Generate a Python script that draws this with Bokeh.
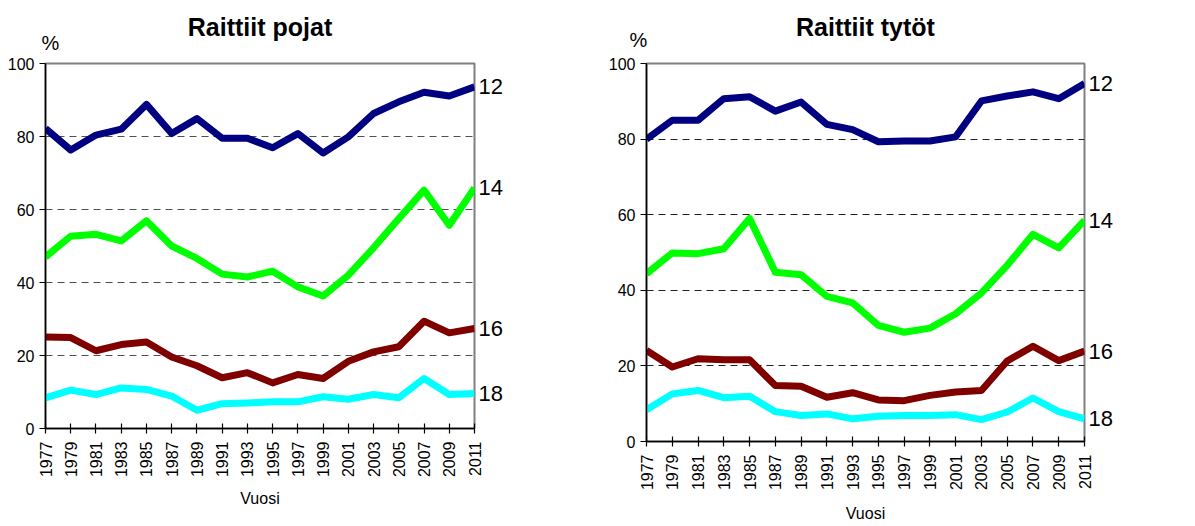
from math import pi
from bokeh.plotting import figure
from bokeh.layouts import row
from bokeh.models import FixedTicker, Range1d, Title, LinearAxis
from bokeh.embed import file_html
from bokeh.resources import INLINE

years = list(range(1977, 2012, 2))

boys_12 = [82.2, 76.3, 80.4, 82.0, 88.8, 80.8, 84.9, 79.5, 79.5, 76.9, 80.8, 75.5, 79.9, 86.3, 89.5, 92.1, 91.1, 93.6]
boys_14 = [47.0, 52.7, 53.2, 51.4, 56.9, 50.0, 46.6, 42.3, 41.5, 43.1, 38.8, 36.3, 42.0, 49.5, 57.5, 65.3, 55.7, 65.9]
boys_16 = [25.1, 24.9, 21.3, 23.0, 23.7, 19.6, 17.2, 13.9, 15.3, 12.5, 14.8, 13.7, 18.4, 21.0, 22.4, 29.4, 26.2, 27.4]
boys_18 = [8.4, 10.5, 9.3, 11.1, 10.7, 8.9, 5.0, 6.8, 7.0, 7.3, 7.3, 8.7, 8.0, 9.3, 8.4, 13.7, 9.3, 9.6]

girls_12 = [80.0, 85.0, 85.0, 90.7, 91.2, 87.4, 89.8, 83.9, 82.5, 79.3, 79.5, 79.5, 80.6, 90.1, 91.4, 92.5, 90.7, 94.7]
girls_14 = [44.4, 49.9, 49.7, 51.0, 59.0, 44.8, 44.1, 38.4, 36.7, 30.7, 28.9, 30.0, 33.8, 39.3, 46.6, 54.8, 51.2, 58.5]
girls_16 = [24.1, 19.7, 21.9, 21.6, 21.6, 14.8, 14.6, 11.7, 12.9, 11.0, 10.8, 12.2, 13.1, 13.5, 21.3, 25.2, 21.4, 23.9]
girls_18 = [8.4, 12.6, 13.5, 11.6, 12.0, 7.9, 6.9, 7.3, 6.0, 6.7, 6.9, 6.9, 7.1, 5.8, 7.8, 11.5, 7.9, 6.0]

age_labels = ["12", "14", "16", "18"]
colors = ["#000080", "#00FF00", "#800000", "#00FFFF"]
y_ticks = [0, 20, 40, 60, 80, 100]
grid_ticks = [20, 40, 60, 80]

FONT = "Liberation Sans"


def make(title, series, fw, fh, bl, br, bt, bb, grid_color, pct_off, pct_standoff,
         title_standoff, vuosi_standoff):
    p = figure(frame_width=fw, frame_height=fh,
               x_range=Range1d(1977, 2011), y_range=Range1d(0, 100),
               output_backend="svg", toolbar_location=None,
               min_border_left=bl, min_border_right=br,
               min_border_top=bt, min_border_bottom=bb)
    p.background_fill_color = "white"
    p.border_fill_color = "white"
    p.outline_line_color = "#808080"
    p.outline_line_width = 2
    p.xgrid.visible = False
    p.ygrid.ticker = FixedTicker(ticks=grid_ticks)
    p.ygrid.grid_line_color = grid_color
    p.ygrid.grid_line_dash = "7 5"
    p.ygrid.grid_line_width = 1.2

    for vals, c in zip(series, colors):
        p.line(years, vals, line_color=c, line_width=7, line_join="round")

    for ax in (p.xaxis, p.yaxis):
        ax.axis_line_color = "black"
        ax.axis_line_width = 1.5
        ax.major_tick_line_color = "black"
        ax.major_tick_line_width = 1.2
        ax.minor_tick_line_color = None
        ax.major_label_text_font = FONT
        ax.major_label_text_font_size = "16px"
        ax.major_label_text_color = "black"

    p.xaxis.ticker = FixedTicker(ticks=years)
    p.xaxis.major_label_orientation = pi / 2
    p.xaxis.major_tick_in = 5
    p.xaxis.major_tick_out = 5
    p.xaxis.major_label_standoff = 8
    p.xaxis.axis_label = "Vuosi"
    p.xaxis.axis_label_text_font = FONT
    p.xaxis.axis_label_text_font_size = "16px"
    p.xaxis.axis_label_text_font_style = "normal"
    p.xaxis.axis_label_text_color = "black"
    p.xaxis.axis_label_standoff = vuosi_standoff

    p.yaxis.ticker = FixedTicker(ticks=y_ticks)
    p.yaxis.major_tick_in = 0
    p.yaxis.major_tick_out = 6
    p.yaxis.major_label_standoff = 5

    # series end labels as a right-hand axis
    ends = [v[-1] for v in series]
    rax = LinearAxis(ticker=FixedTicker(ticks=ends),
                     major_label_overrides={e: lab for e, lab in zip(ends, age_labels)})
    rax.axis_line_color = None
    rax.major_tick_line_color = None
    rax.major_tick_in = 0
    rax.major_tick_out = 0
    rax.minor_tick_line_color = None
    rax.major_label_standoff = 4
    rax.major_label_text_font = FONT
    rax.major_label_text_font_size = "22px"
    rax.major_label_text_color = "black"
    p.add_layout(rax, "right")

    p.add_layout(Title(text="%", align="left", offset=pct_off, text_font=FONT,
                       text_font_size="20px", text_font_style="normal",
                       text_color="black", standoff=pct_standoff), "above")
    p.add_layout(Title(text=title, align="center", text_font=FONT,
                       text_font_size="25px", text_font_style="bold",
                       text_color="black", standoff=title_standoff), "above")
    return p


p1 = make("Raittiit pojat", [boys_12, boys_14, boys_16, boys_18],
          429, 365, 45, 112, 58, 91, "#505050", -4, 20, -42, 10)
p2 = make("Raittiit tytöt", [girls_12, girls_14, girls_16, girls_18],
          438, 378, 60, 100, 63, 80, "#202020", -17, 26, -54, 12)

layout = row(p1, p2, spacing=0)

with open("out.html", "w") as f:
    f.write(file_html(layout, INLINE))
